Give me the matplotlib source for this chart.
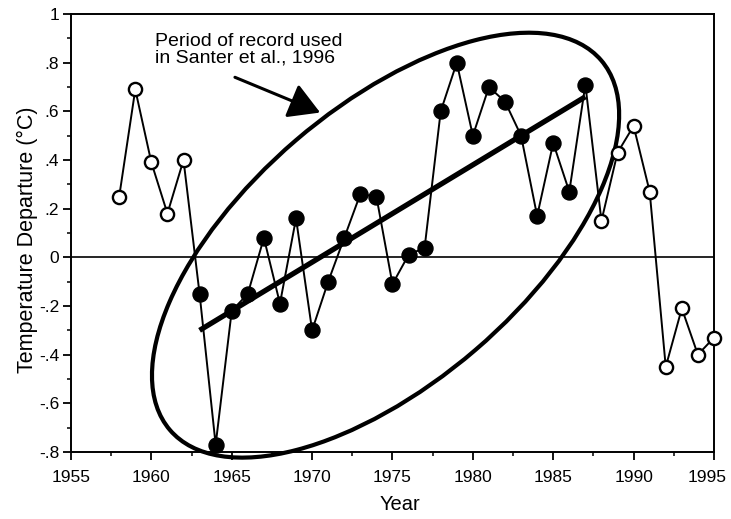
import matplotlib

matplotlib.use("Agg")
import matplotlib.pyplot as plt
import matplotlib.transforms as mtransforms
import numpy as np
from matplotlib.patches import Ellipse
from matplotlib.ticker import FixedLocator, MultipleLocator

plt.rcParams["font.family"] = ["Liberation Sans", "DejaVu Sans"]

# annual temperature departures (deg C)
years = np.arange(1958, 1996)
departures = [
    0.25, 0.69, 0.39, 0.18, 0.40,                      # 1958-1962
    -0.15, -0.77, -0.22, -0.15, 0.08, -0.19, 0.16,     # 1963-1969
    -0.30, -0.10, 0.08, 0.26, 0.25, -0.11, 0.01,       # 1970-1976
    0.04, 0.60, 0.80, 0.50, 0.70, 0.64, 0.50,          # 1977-1983
    0.17, 0.47, 0.27, 0.71,                            # 1984-1987
    0.15, 0.43, 0.54, 0.27, -0.45, -0.21, -0.40, -0.33,  # 1988-1995
]
record_start, record_end = 1963, 1987

# linear trend over the Santer et al. period
trend_years = [1963, 1987]
trend_values = [-0.30, 0.66]

yticks = [-0.8, -0.6, -0.4, -0.2, 0.0, 0.2, 0.4, 0.6, 0.8, 1.0]
ytick_labels = ["-.8", "-.6", "-.4", "-.2", "0", ".2", ".4", ".6", ".8", "1"]
xticks = [1955, 1960, 1965, 1970, 1975, 1980, 1985, 1990, 1995]

note_text = "Period of record used\nin Santer et al., 1996"

years = np.asarray(years)
departures = np.asarray(departures)
in_period = (years >= record_start) & (years <= record_end)

fig = plt.figure(figsize=(7.31, 5.19), dpi=100)
ax = fig.add_axes([0.0971, 0.1291, 0.8796, 0.8439])

ax.axhline(0, color="black", lw=1.2, zorder=1)

ax.plot(years, departures, color="black", lw=1.4, zorder=2, clip_on=False)
ax.plot(years[in_period], departures[in_period], "o", color="black",
        ms=10.8, zorder=4, clip_on=False)
ax.plot(years[~in_period], departures[~in_period], "o", mfc="white",
        mec="black", mew=1.7, ms=9.5, zorder=4, clip_on=False)

ax.plot(trend_years, trend_values, color="black", lw=3.8,
        solid_capstyle="butt", zorder=3)

# hand-drawn ellipse around the period (size in inches, centred on data point)
ell_tr = fig.dpi_scale_trans + mtransforms.ScaledTranslation(1974.57, 0.05, ax.transData)
ax.add_patch(Ellipse((0, 0), 5.68, 2.76, angle=40.6, fill=False,
                     ec="black", lw=3.0, transform=ell_tr, zorder=3,
                     clip_on=False))

ax.text(1960.2, 0.92, note_text, fontsize=14, ha="left", va="top",
        linespacing=0.95)
ax.annotate("", xy=(1970.5, 0.595), xytext=(1965.2, 0.74),
            arrowprops=dict(arrowstyle="-|>,head_length=1.9,head_width=1.1",
                            color="black", lw=2.2, mutation_scale=10,
                            shrinkA=0, shrinkB=0))

ax.set_xlim(1955, 1995)
ax.set_ylim(-0.8, 1.0)
ax.xaxis.set_major_locator(FixedLocator(xticks))
ax.xaxis.set_minor_locator(MultipleLocator(2.5))
ax.set_yticks(yticks)
ax.set_yticklabels(ytick_labels)
ax.yaxis.set_minor_locator(MultipleLocator(0.1))

ax.tick_params(which="major", direction="out", length=6, width=1.3,
               labelsize=12.5, color="black")
ax.tick_params(which="minor", direction="out", length=3, width=1.1)
ax.tick_params(axis="x", which="major", pad=7)
ax.tick_params(axis="y", which="major", pad=2.5)

# last year label sits a little left of its tick, as in the original
last_label = ax.get_xticklabels()[-1]
last_label.set_transform(last_label.get_transform()
                         + mtransforms.ScaledTranslation(-7 / 100, 0, fig.dpi_scale_trans))

for spine in ax.spines.values():
    spine.set_linewidth(1.4)

ax.set_xlabel("Year", fontsize=14.5)
ax.set_ylabel("Temperature Departure (°C)", fontsize=15.5)
ax.xaxis.set_label_coords(0.512, -0.098)
ax.yaxis.set_label_coords(-0.052, 0.484)

fig.savefig("out.png", dpi=100)
plt.close(fig)
